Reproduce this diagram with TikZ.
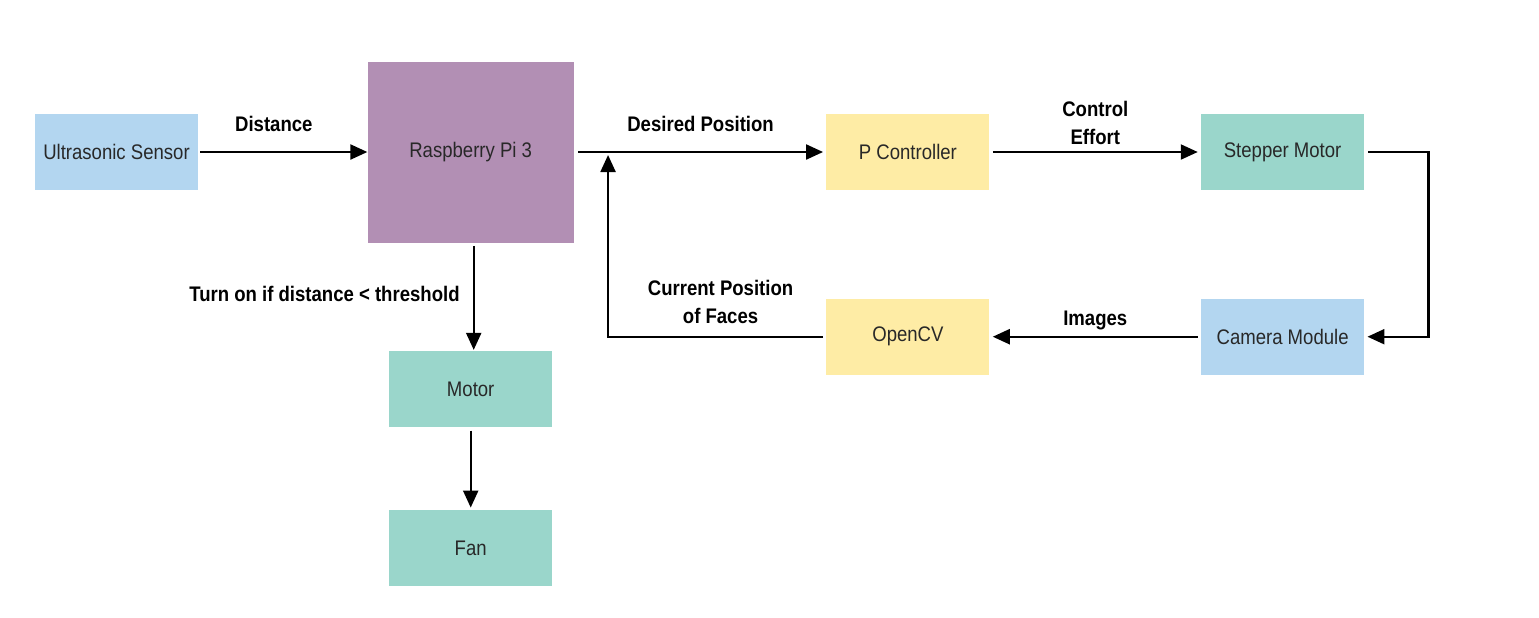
\documentclass[tikz,border=0pt]{standalone}
\usepackage{fontspec}
\setmainfont{Liberation Sans}[FakeStretch=0.88]
\usetikzlibrary{arrows.meta, positioning}
\definecolor{sensorblue}{RGB}{179,214,240}
\definecolor{pipurple}{RGB}{178,143,180}
\definecolor{ctrlyellow}{RGB}{254,236,165}
\definecolor{motorteal}{RGB}{154,214,203}
\definecolor{boxtext}{RGB}{40,40,40}
\tikzset{
    block/.style={rectangle, minimum width=3.26cm, minimum height=1.52cm, align=center, text=boxtext, font=\fontsize{12}{14}\selectfont, inner sep=0pt},
    arrow/.style={-{Triangle[length=0.34cm, width=0.3cm]}, line width=1.25pt, black},
    lbl/.style={font=\bfseries\fontsize{12}{16}\selectfont, align=center, inner sep=0pt},
}

\begin{document}
\begin{tikzpicture}

\useasboundingbox (-2.33,3.04) rectangle (28.45,-9.3);

% Top row
\node[block, fill=sensorblue] (sensor) at (0,0) {Ultrasonic Sensor};
\node[block, fill=pipurple, minimum width=4.12cm, minimum height=3.62cm, right=3.38cm of sensor] (rpi) {Raspberry Pi 3};
\node[block, fill=ctrlyellow, right=5.04cm of rpi] (pctrl) {P Controller};
\node[block, fill=motorteal, right=4.22cm of pctrl] (stepper) {Stepper Motor};

% Feedback row
\node[block, fill=sensorblue, below=2.16cm of stepper] (camera) {Camera Module};
\node[block, fill=ctrlyellow, left=4.22cm of camera] (opencv) {OpenCV};

% Fan branch
\node[block, fill=motorteal, below=2.16cm of rpi] (motor) {Motor};
\node[block, fill=motorteal, below=1.64cm of motor] (fan) {Fan};

% Arrows
\draw[arrow] ([xshift=0.04cm]sensor.east) -- node[lbl, yshift=0.56cm, xshift=-0.2cm] {Distance} (rpi.west |- sensor.east);
\draw[arrow] ([xshift=0.08cm]rpi.east |- pctrl.west) -- node[lbl, yshift=0.56cm] {Desired Position} ([xshift=-0.06cm]pctrl.west);
\draw[arrow] ([xshift=0.06cm]pctrl.east) -- node[lbl, yshift=0.58cm] {Control\\Effort} ([xshift=-0.06cm]stepper.west);
\draw[arrow] ([xshift=0.08cm]stepper.east) -- ++(1.2,0) |- ([xshift=0.06cm]camera.east);
\draw[arrow] ([xshift=-0.06cm]camera.west) -- node[lbl, yshift=0.32cm] {Images} ([xshift=0.06cm]opencv.east);

% Feedback into the desired position line
\coordinate (junc) at ([xshift=0.68cm]rpi.east |- pctrl.west);
\draw[arrow] ([xshift=-0.06cm]opencv.west) -- node[lbl, yshift=0.7cm, xshift=0.1cm] {Current Position\\of Faces} (opencv.west -| junc) -- ([yshift=-0.06cm]junc);

\draw[arrow] ([xshift=0.06cm, yshift=-0.06cm]rpi.south) -- node[lbl, left=0.26cm, yshift=0.08cm] {Turn on if distance < threshold} ([xshift=0.06cm, yshift=0.02cm]motor.north);
\draw[arrow] ([yshift=-0.06cm]motor.south) -- ([yshift=0.04cm]fan.north);

\end{tikzpicture}
\end{document}
